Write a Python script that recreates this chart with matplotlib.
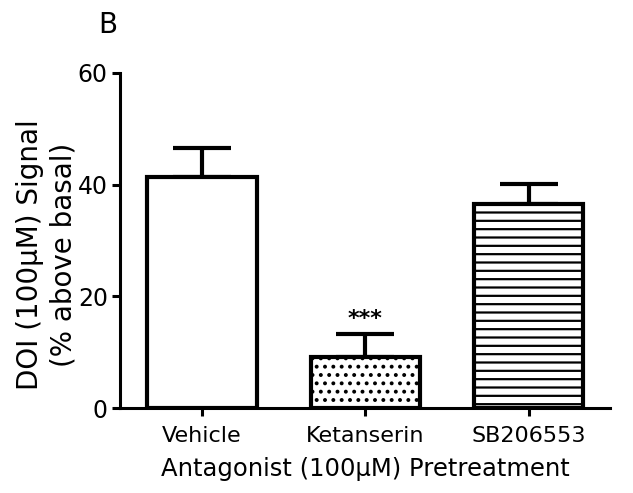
import numpy as np
import matplotlib.pyplot as plt

plt.rcParams['font.family'] = ['DejaVu Sans']
plt.rcParams['hatch.linewidth'] = 1.6

# data
groups = ['Vehicle', 'Ketanserin', 'SB206553']
means = [41.4, 9.1, 36.6]
sem = [5.2, 4.1, 3.6]
hatches = ['', '..', '--']
stars = ['', '***', '']

fig = plt.figure(figsize=(6.33, 4.93), dpi=100)
ax = fig.add_axes([0.19, 0.172, 0.774, 0.68])

x = np.arange(len(groups))
ax.errorbar(x, means, yerr=[np.zeros(len(sem)), sem], fmt='none', ecolor='black',
            elinewidth=3, capsize=21, capthick=3, zorder=1)
bars = ax.bar(x, means, width=0.67, color='white', edgecolor='black',
              linewidth=3, zorder=2)
for b, h in zip(bars, hatches):
    b.set_hatch(h)

for i in range(len(groups)):
    if stars[i]:
        ax.text(x[i], means[i] + sem[i] + 0.9, stars[i], ha='center', va='bottom',
                fontsize=16, fontweight='bold')

ax.set_xlim(-0.5, 2.5)
ax.set_ylim(0, 60)
ax.set_yticks([0, 20, 40, 60])
ax.set_xticks(x)
ax.set_xticklabels(groups)

for side in ['top', 'right']:
    ax.spines[side].set_visible(False)
for side in ['left', 'bottom']:
    ax.spines[side].set_linewidth(2.2)

ax.tick_params(axis='both', width=2.2, length=6, direction='out')
ax.tick_params(axis='y', labelsize=17, pad=3)
ax.tick_params(axis='x', labelsize=16, pad=7)
ax.set_xlabel('Antagonist (100µM) Pretreatment', fontsize=17.5, labelpad=8)
ax.set_ylabel('DOI (100µM) Signal\n(% above basal)', fontsize=20,
              linespacing=1.25)
ax.yaxis.set_label_coords(-0.088, 0.457)

fig.text(0.156, 0.933, 'B', fontsize=20)

fig.savefig('out.png', dpi=100)
